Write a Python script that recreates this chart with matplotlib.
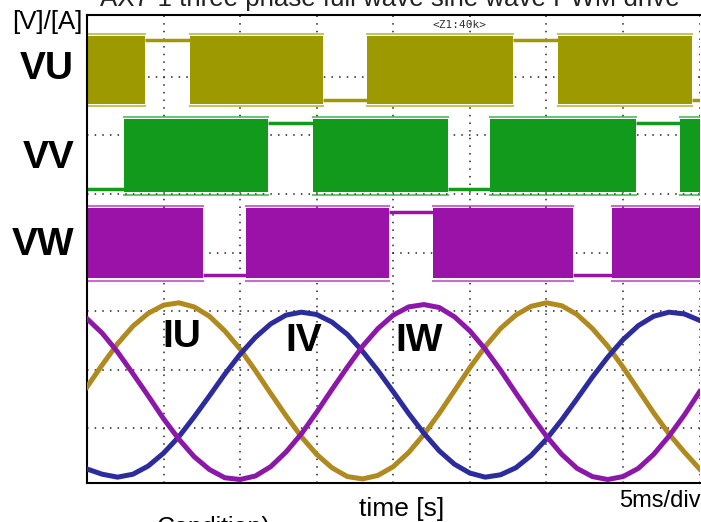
import matplotlib.pyplot as plt

plt.rcParams["font.family"] = ["Liberation Sans", "DejaVu Sans"]

# time axis in ms (5 ms/div), vertical axis in scope divisions
t_ms = list(range(0, 41))

iu = [1.70, 2.08, 2.44, 2.74, 2.96, 3.10, 3.14, 3.07, 2.91, 2.66,
      2.35, 1.98, 1.59, 1.21, 0.85, 0.55, 0.32, 0.17, 0.13, 0.19,
      0.34, 0.58, 0.89, 1.25, 1.64, 2.03, 2.39, 2.70, 2.93, 3.08,
      3.14, 3.09, 2.94, 2.70, 2.40, 2.04, 1.65, 1.26, 0.90, 0.59, 0.30]
iv = [0.30, 0.21, 0.16, 0.21, 0.35, 0.57, 0.85, 1.19, 1.55, 1.92,
      2.26, 2.55, 2.78, 2.93, 2.98, 2.94, 2.81, 2.60, 2.31, 1.98,
      1.62, 1.25, 0.91, 0.61, 0.38, 0.23, 0.16, 0.20, 0.32, 0.53,
      0.81, 1.14, 1.50, 1.87, 2.21, 2.51, 2.75, 2.91, 2.98, 2.95, 2.84]
iw = [2.87, 2.62, 2.30, 1.93, 1.55, 1.16, 0.81, 0.51, 0.29, 0.15,
      0.12, 0.18, 0.34, 0.59, 0.90, 1.27, 1.66, 2.04, 2.40, 2.70,
      2.93, 3.07, 3.11, 3.06, 2.90, 2.66, 2.35, 1.99, 1.60, 1.22,
      0.86, 0.55, 0.31, 0.17, 0.12, 0.17, 0.31, 0.55, 0.86, 1.22, 1.62]

# PWM bands (top, bottom) and clamped intervals (start, end, side)
vu_level = (7.70, 6.54)
vv_level = (6.28, 5.03)
vw_level = (4.76, 3.56)
vu_gaps = [(3.78, 6.72, "high"), (15.40, 18.27, "low"), (27.80, 30.73, "high"), (39.49, 40.0, "low")]
vv_gaps = [(0.0, 2.41, "low"), (11.81, 14.75, "high"), (23.56, 26.30, "low"), (35.82, 38.70, "high")]
vw_gaps = [(7.57, 10.38, "low"), (19.71, 22.58, "high"), (31.71, 34.26, "low")]

c_vu, c_vv, c_vw = "#9c9a00", "#129a1c", "#9a12a8"
c_iu, c_iv, c_iw = "#b08a1e", "#2c2c9c", "#8c18aa"


def draw_pwm(ax, level, gaps, color):
    top, bot = level
    edges = [0.0]
    for s, e, _ in gaps:
        edges += [s, e]
    edges.append(40.0)
    for a, b in zip(edges[0::2], edges[1::2]):
        if b > a:
            ax.fill_between([a, b], [bot, bot], [top, top], color=color, lw=0, zorder=2)
            ax.plot([a, b], [top + 0.03, top + 0.03], color=color, lw=1.5, alpha=0.6, zorder=2)
            ax.plot([a, b], [bot - 0.04, bot - 0.04], color=color, lw=1.5, alpha=0.6, zorder=2)
    for s, e, side in gaps:
        y = top - 0.06 if side == "high" else bot + 0.06
        ax.plot([s, e], [y, y], color=color, lw=2.5, zorder=2, solid_capstyle="butt")


fig = plt.figure(figsize=(7.01, 5.22), dpi=100)
ax = fig.add_axes([0.124, 0.0747, 0.874, 0.8966])

draw_pwm(ax, vu_level, vu_gaps, c_vu)
draw_pwm(ax, vv_level, vv_gaps, c_vv)
draw_pwm(ax, vw_level, vw_gaps, c_vw)

ax.plot(t_ms, iu, color=c_iu, lw=3.6, zorder=3)
ax.plot(t_ms, iv, color=c_iv, lw=3.6, zorder=3)
ax.plot(t_ms, iw, color=c_iw, lw=3.6, zorder=3)

ax.set_xlim(0, 40)
ax.set_ylim(0.06, 8.06)
ax.set_xticks([5, 10, 15, 20, 25, 30, 35, 40])
ax.set_yticks([1, 2, 3, 4, 5, 6, 7])
ax.grid(True, color="#222222", linestyle=(0, (1, 4)), lw=1.1)
ax.set_axisbelow(True)
ax.tick_params(length=0, labelbottom=False, labelleft=False)
for side in ["left", "top", "bottom"]:
    ax.spines[side].set_linewidth(1.5)
ax.spines["right"].set_visible(False)

ax.text(24.3, 7.89, "<Z1:40k>", family="DejaVu Sans Mono", fontsize=8,
        color="#333333", ha="center", va="center", zorder=4)

ax.text(6.2, 2.56, "IU", fontsize=28, fontweight="bold", ha="center", va="center", zorder=4)
ax.text(14.15, 2.49, "IV", fontsize=28, fontweight="bold", ha="center", va="center", zorder=4)
ax.text(21.66, 2.49, "IW", fontsize=28, fontweight="bold", ha="center", va="center", zorder=4)

fig.text(47 / 701, 1 - 22 / 522, "[V]/[A]", fontsize=18.5, ha="center", va="center")
fig.text(74 / 701, 1 - 69 / 522, "VU", fontsize=28, fontweight="bold", ha="right", va="center")
fig.text(74 / 701, 1 - 158 / 522, "VV", fontsize=28, fontweight="bold", ha="right", va="center")
fig.text(74 / 701, 1 - 245 / 522, "VW", fontsize=28, fontweight="bold", ha="right", va="center")

fig.text(390 / 701, 1 - 6 / 522, "AX7-1 three phase full wave sine wave PWM drive",
         fontsize=18.6, color="#222222", ha="center", va="baseline")
fig.text(402 / 701, 1 - 509 / 522, "time [s]", fontsize=19, ha="center", va="center")
fig.text(660 / 701, 1 - 501 / 522, "5ms/div", fontsize=17, ha="center", va="center")
fig.text(157 / 701, 1 - 516 / 522, "Condition)", fontsize=18, ha="left", va="top")

fig.savefig("out.png", dpi=100)
